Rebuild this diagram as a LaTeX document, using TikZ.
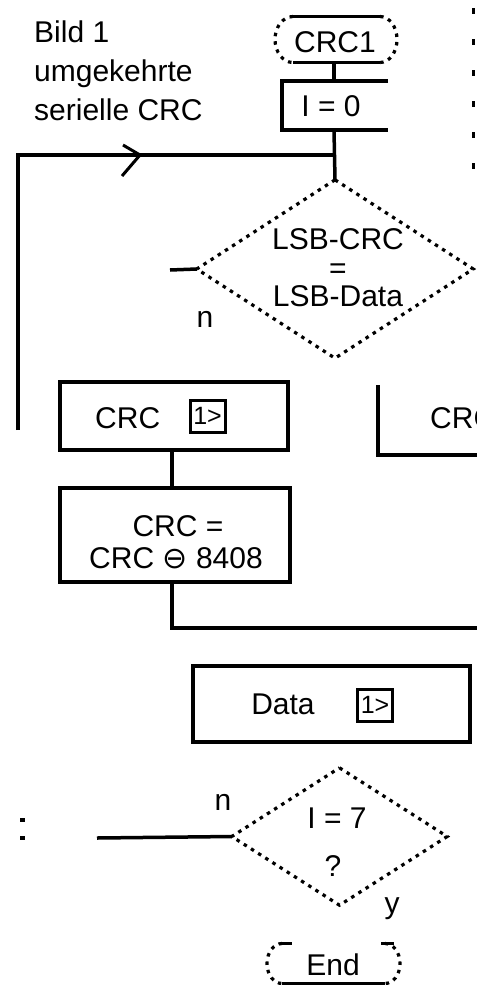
\documentclass[tikz,border=0pt]{standalone}
\usepackage{fontspec}
\setmainfont{Liberation Sans}
\newfontfamily\symfont{DejaVu Sans}
\usetikzlibrary{arrows.meta}
\begin{document}
\begin{tikzpicture}[x=1pt,y=-1pt,
  line/.style={line width=3.5pt},
  dots/.style={line width=3.2pt,dash pattern=on 3.5pt off 5pt},
  txt/.style={font=\fontsize{30}{32}\selectfont, inner sep=0pt},
  frame/.style={line width=3.5pt, draw, inner sep=0pt},
  shiftbox/.style={draw, line width=3pt, inner sep=0pt, minimum width=35pt, minimum height=32pt, font=\fontsize{25}{26}\selectfont}
]
\useasboundingbox (0,0) rectangle (477,989);

% title
\node[txt, anchor=north west, align=left, font=\fontsize{30}{39}\selectfont] (title) at (34,21) {Bild 1\\umgekehrte\\serielle CRC};

% start terminal
\node[inner sep=0pt, minimum width=122pt, minimum height=47pt] (start) at (336,40) {};
\node[txt] (starttxt) at (335,42) {CRC1};
\draw[line] (293,16.5) -- (380,16.5);
\draw[line] (293,62.5) -- (380,62.5);
\draw[dots] (293,16.5) arc[start angle=90, end angle=270, x radius=18pt, y radius=23pt];
\draw[dots] (380,16.5) arc[start angle=90, end angle=-90, x radius=17pt, y radius=23pt];

% I = 0 box
\node[inner sep=0pt, minimum width=106pt, minimum height=49pt] (init) at (335,105.5) {};
\node[txt] (inittxt) at (331,106) {I = 0};
\draw[line] (init.north east) -- (init.north west) -- (init.south west) -- (init.south east);

% decision 1
\node[inner sep=0pt, minimum width=276pt, minimum height=178pt] (d1) at (335,269) {};
\draw[dots] (d1.north) -- (d1.east) -- (d1.south) -- (d1.west) -- cycle;
\node[txt, align=center, font=\fontsize{30}{28.5}\selectfont] (d1t) at (338,268) {LSB-CRC\\=\\LSB-Data};
\node[txt] (n1) at (205,319) {n};
\node[txt] (y1) at (485,318) {y};

% shift box CRC
\node[frame, minimum width=228pt, minimum height=68pt] (sb) at (174,416) {};
\node[txt, anchor=west] (sbt) at (95,418) {CRC};
\node[shiftbox] (sb1) at (207.5,416) {1>};

% right branch box
\coordinate (rb1) at (378,385);
\coordinate (rb2) at (378,455);
\coordinate (rb3) at (477,455);
\draw[line] (rb1) -- (rb2) -- (rb3);
\node[txt, anchor=west] (rbt) at (430,418) {CRC};

% CRC = CRC xor 8408
\node[frame, minimum width=230pt, minimum height=94pt] (cb) at (175,535) {};
\node[txt] (cb1) at (178,526) {CRC =};
\node[txt] (cb2) at (176,558) {CRC {\symfont ⊖} 8408};

% Data shift box
\node[frame, minimum width=277pt, minimum height=76pt] (db) at (331.5,704) {};
\node[txt] (dbt) at (283,704) {Data};
\node[shiftbox] (db1) at (375,705) {1>};

% decision 2
\node[inner sep=0pt, minimum width=215pt, minimum height=137pt] (d2) at (339.5,836.5) {};
\draw[dots] (d2.north) -- (d2.east) -- (d2.south) -- (d2.west) -- cycle;
\node[txt] (d2a) at (337,818) {I = 7};
\node[txt] (d2b) at (333,866) {?};
\node[txt] (n2) at (223,802) {n};
\node[txt] (y2) at (392,909) {y};

% end terminal
\node[inner sep=0pt, minimum width=133pt, minimum height=43pt] (end) at (333.5,963.5) {};
\node[txt] (endtxt) at (333,965) {End};
\draw[line] (282,983.5) -- (385,983.5);
\draw[line] (280,943.5) -- (292,943.5);
\draw[line] (381,943.5) -- (394,943.5);
\draw[dots] (282,943.5) arc[start angle=90, end angle=270, x radius=15pt, y radius=20pt];
\draw[dots] (385,943.5) arc[start angle=90, end angle=-90, x radius=15pt, y radius=20pt];

% connectors
\coordinate (j1) at (334,155);
\coordinate (lp1) at (18,430);
\coordinate (lp2) at (18,155);
\coordinate (ah) at (140,155);
\draw[line] (334,62.5) -- (init.north -| 334,0);
\draw[line] (334,130) -- (d1.north);
\draw[line] (lp1) -- (lp2) -- (ah) -- (j1);
\draw[line width=3pt] (123,145) -- (ah) -- (122,176);
\coordinate (w1) at (170,270);
\draw[line] (d1.west) -- (w1);
\draw[line] (sb.south -| 172,0) -- (cb.north -| 172,0);
\coordinate (m1) at (477,628);
\draw[line] (cb.south -| 172,0) |- (m1);
\coordinate (w2) at (97,838);
\draw[line] (d2.west) -- (w2);
\fill (20,818) rectangle (25,822);
\fill (20,836) rectangle (25,840);
\draw[line width=3pt, dash pattern=on 6pt off 25pt] (473,8) -- (473,180);
\end{tikzpicture}
\end{document}
